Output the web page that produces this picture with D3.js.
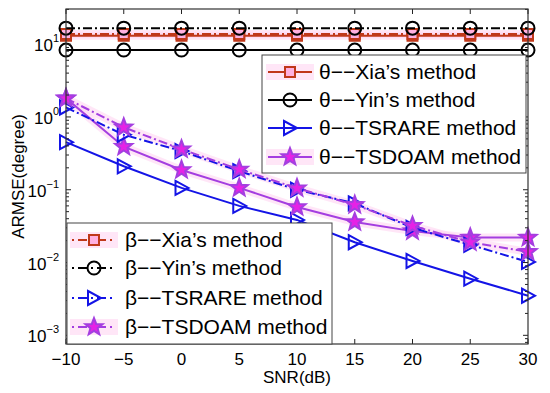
<!DOCTYPE html>
<html>
<head>
<meta charset="utf-8">
<script src="https://cdn.jsdelivr.net/npm/d3@7"></script>
<style>
  body { margin: 0; background: #fff; }
  svg { font-family: "Liberation Sans", Arial, sans-serif; }
</style>
</head>
<body>
<div id="chart"></div>
<script>
// SNR points (dB)
const snr = [-10, -5, 0, 5, 10, 15, 20, 25, 30];

// ARMSE values (degree)
const thetaXia    = [13, 13, 13, 13, 13, 13, 13, 13, 13];
const thetaYin    = [8.3, 8.3, 8.3, 8.3, 8.3, 8.3, 8.3, 8.3, 8.3];
const thetaTsrare = [0.45, 0.21, 0.106, 0.06, 0.0385, 0.019, 0.0105, 0.006, 0.0035];
const thetaTsdoam = [1.8, 0.39, 0.187, 0.106, 0.058, 0.036, 0.027, 0.022, 0.022];
const betaXia     = [13.8, 13.8, 13.8, 13.8, 13.8, 13.8, 13.8, 13.8, 13.8];
const betaYin     = [16.6, 16.6, 16.6, 16.6, 16.6, 16.6, 16.6, 16.6, 16.6];
const betaTsrare  = [1.35, 0.57, 0.34, 0.18, 0.1, 0.065, 0.03, 0.0175, 0.0102];
const betaTsdoam  = [1.8, 0.72, 0.36, 0.19, 0.105, 0.062, 0.032, 0.019, 0.014];

const xTicks = [-10, -5, 0, 5, 10, 15, 20, 25, 30];
const yTicks = [1e-3, 1e-2, 1e-1, 1e0, 1e1];

const width = 550, height = 393;
const margin = {left: 66, right: 22, top: 9, bottom: 49};

const xScale = d3.scaleLinear()
    .domain([-10, 30])
    .range([margin.left, width - margin.right]);

const yScale = d3.scaleLog()
    .domain([7.6e-4, 30.4])
    .range([height - margin.bottom, margin.top]);

const svg = d3.select("#chart").append("svg")
    .attr("width", width)
    .attr("height", height);

const dd = "\u2212\u2212";
const series = [
  {label: "\u03b8" + dd + "Xia\u2019s method",  vals: thetaXia,    color: "#c0381a", marker: "square",   dash: null,      glow: true,  face: "#ffb0e0"},
  {label: "\u03b8" + dd + "Yin\u2019s method",  vals: thetaYin,    color: "#000000", marker: "circle",   dash: null,      glow: false, face: "none"},
  {label: "\u03b8" + dd + "TSRARE method",      vals: thetaTsrare, color: "#1414e6", marker: "triangle", dash: null,      glow: false, face: "none"},
  {label: "\u03b8" + dd + "TSDOAM method",      vals: thetaTsdoam, color: "#a43ee0", marker: "star",     dash: null,      glow: true,  face: "#e622e6"},
  {label: "\u03b2" + dd + "Xia\u2019s method",  vals: betaXia,     color: "#c0381a", marker: "square",   dash: "9,3,2,3", glow: true,  face: "#ffb0e0"},
  {label: "\u03b2" + dd + "Yin\u2019s method",  vals: betaYin,     color: "#000000", marker: "circle",   dash: "9,3,2,3", glow: false, face: "none"},
  {label: "\u03b2" + dd + "TSRARE method",      vals: betaTsrare,  color: "#1414e6", marker: "triangle", dash: "9,3,2,3", glow: false, face: "none"},
  {label: "\u03b2" + dd + "TSDOAM method",      vals: betaTsdoam,  color: "#a43ee0", marker: "star",     dash: "9,3,2,3", glow: true,  face: "#e622e6"}
];

// marker shapes
function markerPath(type) {
  if (type === "square") return "M-5,-5H5V5H-5Z";
  if (type === "triangle") return "M-6,-7L7,0L-6,7Z";
  if (type === "star") {
    let p = [];
    for (let i = 0; i < 10; i++) {
      const r = i % 2 === 0 ? 9 : 3.8;
      const a = -Math.PI / 2 + i * Math.PI / 5;
      p.push([r * Math.cos(a), r * Math.sin(a)]);
    }
    return "M" + p.map(q => q[0].toFixed(2) + "," + q[1].toFixed(2)).join("L") + "Z";
  }
  return null;
}

function drawMarker(g, s, x, y) {
  if (s.marker === "circle") {
    g.append("circle").attr("cx", x).attr("cy", y).attr("r", 6.5)
      .attr("fill", "none").attr("stroke", s.color).attr("stroke-width", 2);
  } else {
    g.append("path").attr("d", markerPath(s.marker))
      .attr("transform", `translate(${x},${y})`)
      .attr("fill", s.face).attr("stroke", s.color).attr("stroke-width", 2)
      .attr("stroke-linejoin", "miter");
  }
}

// axes (box with ticks everywhere)
const plot = svg.append("g");
const bottomY = height - margin.bottom;
const rightX = width - margin.right;

const minorTicks = [];
for (let e = -4; e <= 1; e++) {
  for (let k = 2; k <= 9; k++) {
    const v = k * Math.pow(10, e);
    if (v > yScale.domain()[0] && v < yScale.domain()[1]) minorTicks.push(v);
  }
}

const axisG = svg.append("g").attr("stroke", "#222");
xTicks.forEach(t => {
  axisG.append("line").attr("x1", xScale(t)).attr("x2", xScale(t))
    .attr("y1", bottomY).attr("y2", bottomY - 5);
  axisG.append("line").attr("x1", xScale(t)).attr("x2", xScale(t))
    .attr("y1", margin.top).attr("y2", margin.top + 5);
});
yTicks.forEach(t => {
  axisG.append("line").attr("x1", margin.left).attr("x2", margin.left + 5)
    .attr("y1", yScale(t)).attr("y2", yScale(t));
  axisG.append("line").attr("x1", rightX).attr("x2", rightX - 5)
    .attr("y1", yScale(t)).attr("y2", yScale(t));
});
minorTicks.forEach(t => {
  axisG.append("line").attr("x1", margin.left).attr("x2", margin.left + 3)
    .attr("y1", yScale(t)).attr("y2", yScale(t));
  axisG.append("line").attr("x1", rightX).attr("x2", rightX - 3)
    .attr("y1", yScale(t)).attr("y2", yScale(t));
});

// lines
const line = d3.line()
    .x((d, i) => xScale(snr[i]))
    .y(d => yScale(d));

series.forEach(s => {
  if (s.glow) {
    plot.append("path").attr("d", line(s.vals))
      .attr("fill", "none").attr("stroke", "#ffd6f2").attr("stroke-width", 8)
      .attr("opacity", 0.6);
  }
});
series.forEach(s => {
  plot.append("path").attr("d", line(s.vals))
    .attr("fill", "none").attr("stroke", s.color).attr("stroke-width", 2)
    .attr("stroke-dasharray", s.dash);
  s.vals.forEach((v, i) => drawMarker(plot, s, xScale(snr[i]), yScale(v)));
});

// frame
svg.append("rect")
    .attr("x", margin.left).attr("y", margin.top)
    .attr("width", rightX - margin.left).attr("height", bottomY - margin.top)
    .attr("fill", "none").attr("stroke", "#333").attr("stroke-width", 1.2);

// tick labels
svg.append("g").selectAll("text").data(xTicks).join("text")
    .attr("x", d => xScale(d)).attr("y", bottomY + 21)
    .attr("text-anchor", "middle").attr("font-size", 17)
    .text(d => d < 0 ? "\u2212" + Math.abs(d) : d);

const yl = svg.append("g");
yTicks.forEach(t => {
  const e = Math.round(Math.log10(t));
  const txt = yl.append("text")
      .attr("x", margin.left - 7).attr("y", yScale(t) + 7)
      .attr("text-anchor", "end").attr("font-size", 17);
  txt.append("tspan").text("10");
  txt.append("tspan").attr("dy", -9).attr("font-size", 11)
      .text(e < 0 ? "\u2212" + Math.abs(e) : e);
});

svg.append("text")
    .attr("x", (margin.left + rightX) / 2).attr("y", bottomY + 39)
    .attr("text-anchor", "middle").attr("font-size", 17)
    .text("SNR(dB)");

svg.append("text")
    .attr("transform", `translate(24,${(margin.top + bottomY) / 2}) rotate(-90)`)
    .attr("text-anchor", "middle").attr("font-size", 17)
    .text("ARMSE(degree)");

// legends
function legend(items, x, y, w, h, rowY, sampleX0, sampleX1, textX) {
  const g = svg.append("g");
  g.append("rect").attr("x", x).attr("y", y).attr("width", w).attr("height", h)
    .attr("fill", "#fff").attr("stroke", "#444").attr("stroke-width", 1);
  items.forEach((s, i) => {
    const yy = y + rowY[i];
    if (s.glow) {
      g.append("rect").attr("x", sampleX0 - 2).attr("y", yy - 8)
        .attr("width", sampleX1 - sampleX0 + 4).attr("height", 16)
        .attr("fill", "#ffd6f2").attr("opacity", 0.6);
    }
    g.append("line").attr("x1", sampleX0).attr("x2", sampleX1)
      .attr("y1", yy).attr("y2", yy)
      .attr("stroke", s.color).attr("stroke-width", 2)
      .attr("stroke-dasharray", s.dash ? "2,4,9,4" : null);
    drawMarker(g, s, (sampleX0 + sampleX1) / 2, yy);
    g.append("text").attr("x", textX).attr("y", yy + 7)
      .attr("font-size", 21).text(s.label);
  });
}

legend(series.slice(0, 4), 262, 55, 264, 118, [17, 45, 73, 102], 268, 312, 319);
legend(series.slice(4), 67, 223, 265, 121, [17, 45, 75, 104], 72, 116, 125);
</script>
</body>
</html>
